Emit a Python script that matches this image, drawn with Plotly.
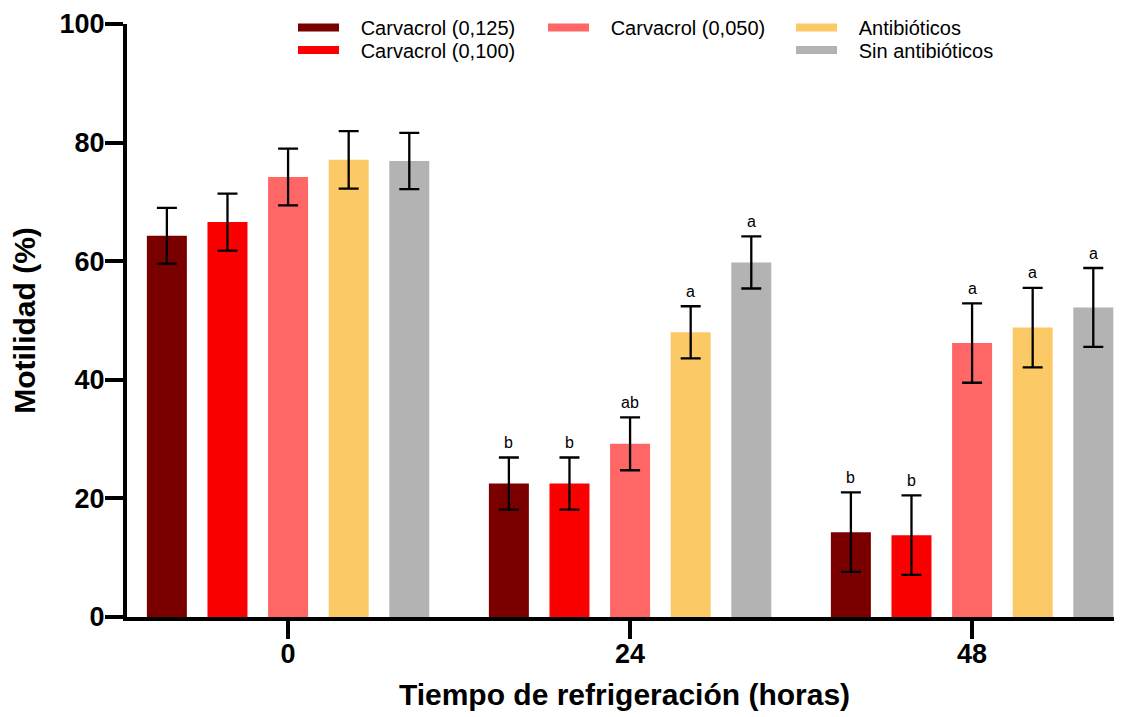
import plotly.graph_objects as go

# ---------------- data ----------------
time_labels = ["0", "24", "48"]
series_names = ["Carvacrol (0,125)", "Carvacrol (0,100)", "Carvacrol (0,050)",
                "Antibióticos", "Sin antibióticos"]
series_colors = ["#7A0000", "#FA0000", "#FF6666", "#FBCA66", "#B3B3B3"]

carv_125 = [64.3, 22.5, 14.3]
carv_100 = [66.6, 22.5, 13.8]
carv_050 = [74.2, 29.2, 46.2]
antibioticos = [77.1, 48.0, 48.8]
sin_antibioticos = [76.9, 59.8, 52.2]

err_125 = [4.7, 4.4, 6.7]
err_100 = [4.8, 4.4, 6.7]
err_050 = [4.8, 4.45, 6.7]
err_antib = [4.85, 4.4, 6.7]
err_sin = [4.75, 4.4, 6.65]

letters_125 = ["", "b", "b"]
letters_100 = ["", "b", "b"]
letters_050 = ["", "ab", "a"]
letters_antib = ["", "a", "a"]
letters_sin = ["", "a", "a"]

means = [carv_125, carv_100, carv_050, antibioticos, sin_antibioticos]
errors = [err_125, err_100, err_050, err_antib, err_sin]
letters = [letters_125, letters_100, letters_050, letters_antib, letters_sin]

# ---------------- figure ----------------
FONT = "Arial, Liberation Sans, Helvetica, sans-serif"
OFF = 8  # page body margin
W, H = 1122 - OFF, 717 - OFF
ML, MR, MT, MB = 127 - OFF, 0, 24 - OFF, 100
BARGAP = 0.114
n = len(series_names)
slot = (1 - BARGAP) / n
xpos = list(range(len(time_labels)))

fig = go.Figure()
for i in range(n):
    fig.add_trace(go.Bar(
        x=xpos, y=means[i], name=series_names[i],
        marker=dict(color=series_colors[i], line=dict(width=0)),
        error_y=dict(type="data", array=errors[i], color="black",
                     thickness=2.3, width=10),
        showlegend=False,
    ))

# legend entries (wide swatches), each in its own legend box
leg_pos = [  # (left pixel in page, row center pixel in page)
    (293, 27.5), (293, 50), (543, 27.5), (791, 27.5), (791, 50)
]
GAP = "\u00a0\u00a0\u00a0"
pw = W - ML - MR
ph = H - MT - MB
for i in range(n):
    key = "legend" if i == 0 else f"legend{i+1}"
    fig.add_trace(go.Scatter(
        x=[None], y=[None], mode="lines", name=GAP + series_names[i],
        line=dict(color=series_colors[i], width=8),
        legend=key, showlegend=True, hoverinfo="skip",
    ))
    lx, ly = leg_pos[i]
    fig.update_layout({key: dict(
        x=(lx - OFF - ML) / pw, y=(H - MB - (ly - OFF)) / ph,
        xanchor="left", yanchor="middle",
        bgcolor="rgba(0,0,0,0)", borderwidth=0,
        font=dict(family=FONT, size=20, color="black"),
        itemwidth=41,
    )})

# significance letters
for i in range(n):
    for j in range(len(time_labels)):
        if letters[i][j]:
            fig.add_annotation(
                x=xpos[j] + (i - (n - 1) / 2) * slot,
                y=means[i][j] + errors[i][j],
                text=letters[i][j], showarrow=False,
                yanchor="middle", yshift=15,
                font=dict(family=FONT, size=16, color="black"),
            )

axis_common = dict(
    showline=True, linecolor="black", linewidth=4,
    ticks="outside", ticklen=18, tickwidth=4, tickcolor="black",
    showgrid=False, zeroline=False,
    tickfont=dict(family=FONT, size=27, color="black", weight="bold"),
)

fig.update_layout(
    width=W, height=H,
    margin=dict(l=ML, r=MR, t=MT, b=MB, pad=0),
    paper_bgcolor="white", plot_bgcolor="white",
    barmode="group", bargap=BARGAP, bargroupgap=0.34,
    xaxis=dict(
        **axis_common,
        range=[-0.471, -0.471 + pw / 342],
        tickvals=xpos, ticktext=time_labels,
        ticklabelstandoff=-8,
        title=dict(text="Tiempo de refrigeración (horas)", standoff=17,
                   font=dict(family=FONT, size=30, color="black", weight="bold")),
    ),
    yaxis=dict(
        **axis_common,
        range=[0, 100], tickvals=[0, 20, 40, 60, 80, 100],
        ticklabelstandoff=-5,
        title=dict(text="Motilidad (%)", standoff=18,
                   font=dict(family=FONT, size=30, color="black", weight="bold")),
    ),
    showlegend=True,
)

fig.write_html("out.html")
